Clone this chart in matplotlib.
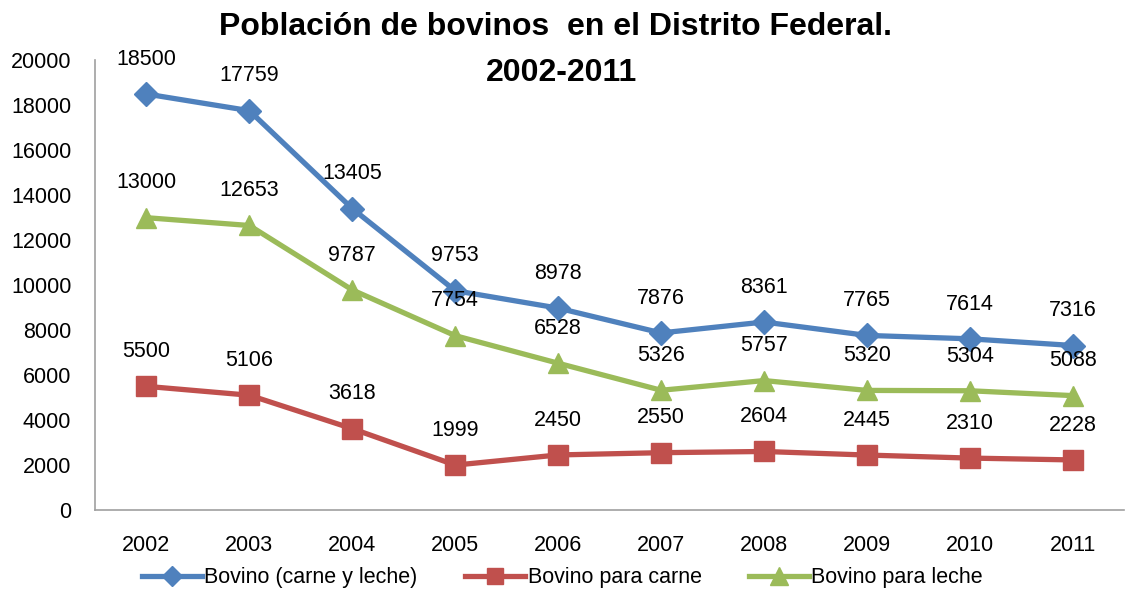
import matplotlib.pyplot as plt
from matplotlib.lines import Line2D

years = ["2002", "2003", "2004", "2005", "2006", "2007", "2008", "2009", "2010", "2011"]
total = [18500, 17759, 13405, 9753, 8978, 7876, 8361, 7765, 7614, 7316]
carne = [5500, 5106, 3618, 1999, 2450, 2550, 2604, 2445, 2310, 2228]
leche = [13000, 12653, 9787, 7754, 6528, 5326, 5757, 5320, 5304, 5088]
series_names = ["Bovino (carne y leche)", "Bovino para carne", "Bovino para leche"]

plt.rcParams['font.family'] = ['Liberation Sans', 'DejaVu Sans']

colors = ['#4F81BD', '#C0504D', '#9BBB59']
markers = ['D', 's', '^']
msizes = [12, 14, 15]

fig = plt.figure(figsize=(11.25, 5.91), dpi=100)
ax = fig.add_axes([0.0844, 0.137, 0.915, 0.761])

x = list(range(len(years)))
for vals, c, m, ms in zip([total, carne, leche], colors, markers, msizes):
    ax.plot(x, vals, color=c, lw=3.8, marker=m, markersize=ms, solid_capstyle='round')
    for xi, v in zip(x, vals):
        ax.annotate(str(v), (xi, v), xytext=(0, 25), textcoords='offset points',
                    ha='center', va='center', fontsize=15.5, color='black')

ax.set_xlim(-0.5, 9.5)
ax.set_ylim(0, 20000)
ax.set_yticks(range(0, 20001, 2000))
ax.set_xticks(x)
ax.set_xticklabels(years)
ax.tick_params(axis='both', length=0, labelsize=15.5)
ax.tick_params(axis='y', pad=17)
ax.tick_params(axis='x', pad=18)
for s in ['top', 'right']:
    ax.spines[s].set_visible(False)
for s in ['left', 'bottom']:
    ax.spines[s].set_color('#A0A0A0')
    ax.spines[s].set_linewidth(1.2)

fig.text(0.494, 0.955, "Población de bovinos  en el Distrito Federal.", ha='center', va='center',
         fontsize=23, fontweight='bold')
fig.text(0.499, 0.876, "2002-2011", ha='center', va='center', fontsize=23, fontweight='bold')

handles = [Line2D([], [], color=c, lw=3.8, marker=m, markersize=ms - 2)
           for c, m, ms in zip(colors, markers, msizes)]
fig.legend(handles, series_names, loc='center', bbox_to_anchor=(0.5, 0.022), ncol=3,
           frameon=False, fontsize=15.5, handlelength=2.8, handletextpad=0.1, columnspacing=2.2)

fig.savefig('out.png', dpi=100)
